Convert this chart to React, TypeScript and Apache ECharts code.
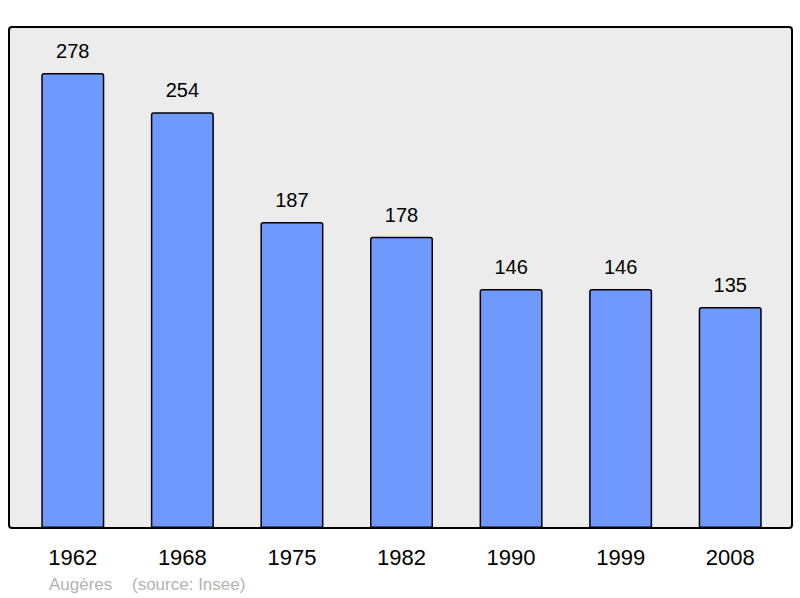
import React, { useRef, useEffect } from 'react'
import * as echarts from 'echarts'

const years = ['1962', '1968', '1975', '1982', '1990', '1999', '2008']
const population = [278, 254, 187, 178, 146, 146, 135]
const placeName = 'Augères'
const sourceNote = '(source: Insee)'

const FONT = '"Liberation Sans", Arial, sans-serif'

const App: React.FC = () => {
  const chartRef = useRef<HTMLDivElement>(null)

  useEffect(() => {
    if (!chartRef.current) return
    const chart = echarts.init(chartRef.current, null, { renderer: 'svg' })

    const option = {
      animation: false,
      grid: { left: 18, right: 15, top: 37, bottom: 70 },
      xAxis: {
        type: 'category',
        data: years,
        axisLine: { show: false },
        axisTick: { show: false },
        axisLabel: { color: '#000', fontSize: 22, fontFamily: FONT, margin: 18 },
      },
      yAxis: {
        type: 'value',
        min: 0,
        max: 300,
        show: false,
        splitLine: { show: false },
      },
      graphic: [
        {
          type: 'rect',
          z: 0,
          shape: { x: 9, y: 27, width: 783, height: 501, r: 3 },
          style: { fill: '#ececec', stroke: '#000', lineWidth: 2 },
        },
        {
          type: 'text',
          x: 49,
          y: 576,
          style: { text: placeName, fill: '#b3b3b3', fontSize: 17, fontFamily: FONT },
        },
        {
          type: 'text',
          x: 132,
          y: 576,
          style: { text: sourceNote, fill: '#b3b3b3', fontSize: 17, fontFamily: FONT },
        },
      ],
      series: [
        {
          type: 'bar',
          data: population,
          barWidth: 63,
          z: 3,
          itemStyle: {
            color: '#7099ff',
            borderColor: '#000',
            borderWidth: 1.5,
            borderRadius: [2, 2, 0, 0],
          },
          label: {
            show: true,
            position: 'top',
            distance: 12,
            color: '#000',
            fontSize: 20,
            fontFamily: FONT,
          },
        },
      ],
    }

    chart.setOption(option)
    return () => chart.dispose()
  }, [])

  return (
    <div
      ref={chartRef}
      style={{ position: 'fixed', left: 0, top: 0, width: 800, height: 598, background: '#fff' }}
    />
  )
}

export default App
